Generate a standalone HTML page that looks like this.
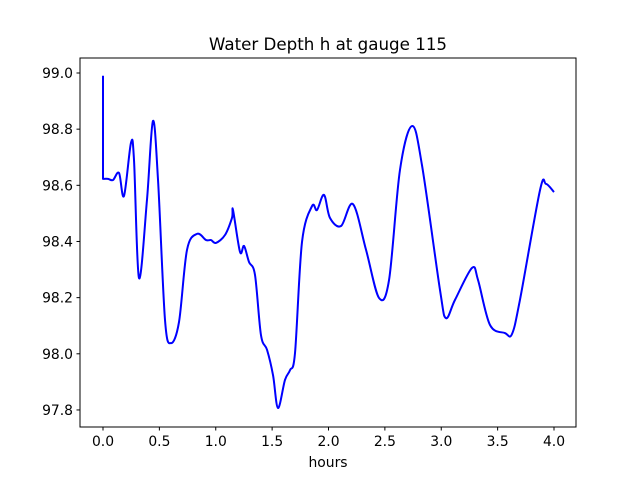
<!DOCTYPE html>
<html><head><meta charset="utf-8"><style>
body{margin:0;background:#fff;}
svg text{font-family:"DejaVu Sans","Liberation Sans",sans-serif;fill:#000;}
</style></head><body>
<svg id="chart" width="640" height="480" xmlns="http://www.w3.org/2000/svg">
<rect width="640" height="480" fill="#fff"/>
<text x="328" y="50" font-size="16.7" text-anchor="middle">Water Depth h at gauge 115</text>
<g id="ticks"></g>
<path id="series" fill="none" stroke="#0000ff" stroke-width="2" stroke-linejoin="round"/>
<rect x="80" y="58" width="496" height="369" fill="none" stroke="#000" stroke-width="1"/>
<text x="328" y="467" font-size="13.9" text-anchor="middle">hours</text>
</svg>
<script>
const hours=[0,0,0.044,0.089,0.142,0.186,0.248,0.275,0.319,0.390,0.443,0.488,0.550,0.603,0.674,0.745,0.834,0.914,0.958,1.002,1.082,1.144,1.153,1.215,1.251,1.295,1.348,1.401,1.455,1.508,1.552,1.614,1.659,1.703,1.765,1.854,1.898,1.960,2.013,2.111,2.217,2.333,2.448,2.537,2.634,2.741,2.829,2.989,3.042,3.122,3.273,3.326,3.432,3.565,3.627,3.698,3.876,3.929,4.0];
const depth=[98.99,98.623,98.623,98.619,98.644,98.562,98.751,98.690,98.270,98.548,98.829,98.619,98.120,98.038,98.113,98.370,98.427,98.405,98.405,98.395,98.423,98.484,98.512,98.363,98.384,98.327,98.281,98.067,98.014,97.924,97.807,97.907,97.942,98.003,98.398,98.526,98.512,98.566,98.484,98.455,98.533,98.370,98.199,98.263,98.655,98.811,98.672,98.227,98.127,98.192,98.306,98.263,98.103,98.074,98.070,98.192,98.583,98.605,98.576];
const xTicks=["0.0","0.5","1.0","1.5","2.0","2.5","3.0","3.5","4.0"];
const yTicks=["97.8","98.0","98.2","98.4","98.6","98.8","99.0"];
const X=h=>103+h*112.75;
const Y=v=>73+(99-v)*280.8;
const NS="http://www.w3.org/2000/svg";
const g=document.getElementById('ticks');
xTicks.forEach(t=>{const x=X(parseFloat(t));
 const l=document.createElementNS(NS,'line');
 
 
 l.setAttribute('x1',x);l.setAttribute('x2',x);l.setAttribute('y1',427);l.setAttribute('y2',430.5);l.setAttribute('stroke','#000');g.appendChild(l);
 const tx=document.createElementNS(NS,'text');
 
 
 tx.setAttribute('x',x);tx.setAttribute('y',446);tx.setAttribute('font-size','13.9');tx.setAttribute('text-anchor','middle');tx.textContent=t;g.appendChild(tx);});
yTicks.forEach(t=>{const y=Y(parseFloat(t));
 const l=document.createElementNS(NS,'line');
 
 
 l.setAttribute('x1',76.5);l.setAttribute('x2',80);l.setAttribute('y1',y);l.setAttribute('y2',y);l.setAttribute('stroke','#000');g.appendChild(l);
 const tx=document.createElementNS(NS,'text');
 
 
 tx.setAttribute('x',73);tx.setAttribute('y',y+5);tx.setAttribute('font-size','13.9');tx.setAttribute('text-anchor','end');tx.textContent=t;g.appendChild(tx);});
const pts=hours.map((h,i)=>[X(h),Y(depth[i])]);
let d=`M${pts[0][0]},${pts[0][1]} L${pts[1][0]},${pts[1][1]}`;
for(let i=1;i<pts.length-1;i++){
 const p0=pts[Math.max(1,i-1)],p1=pts[i],p2=pts[i+1],p3=pts[Math.min(pts.length-1,i+2)];
 const c1=[p1[0]+(p2[0]-p0[0])/6,p1[1]+(p2[1]-p0[1])/6];
 const c2=[p2[0]-(p3[0]-p1[0])/6,p2[1]-(p3[1]-p1[1])/6];
 d+=` C${c1[0]},${c1[1]} ${c2[0]},${c2[1]} ${p2[0]},${p2[1]}`;
}
document.getElementById('series').setAttribute('d',d);
</script>
</body></html>
